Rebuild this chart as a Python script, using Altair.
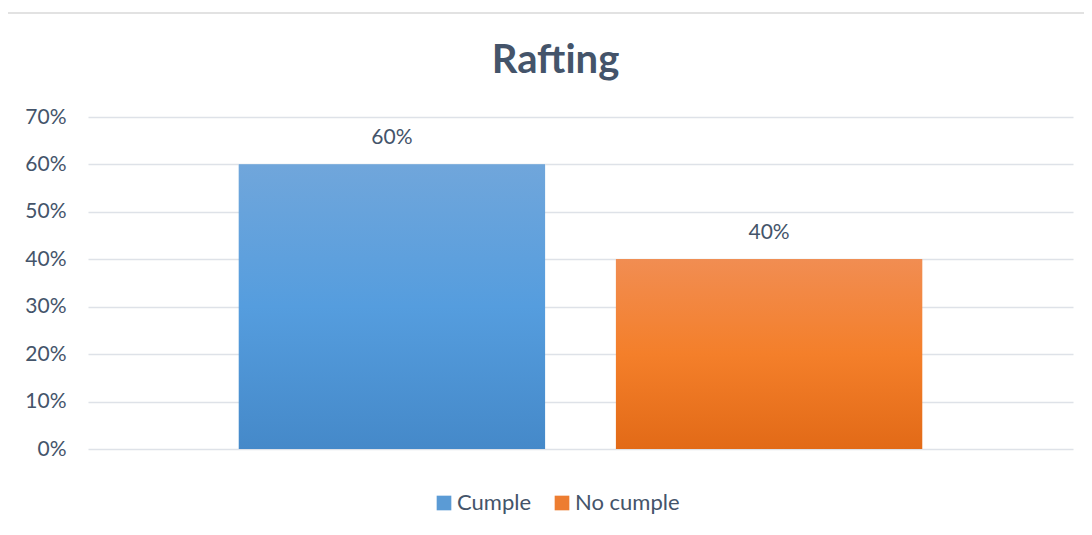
import altair as alt
import pandas as pd

categorias = ["Cumple", "No cumple"]
valores = [0.60, 0.40]
etiquetas = ["60%", "40%"]
titulo = "Rafting"

df = pd.DataFrame({"serie": categorias, "valor": valores, "etiqueta": etiquetas})

TXT = "#44546A"
FONT = "Lato"

grad_blue = {"gradient": "linear", "x1": 0, "y1": 0, "x2": 0, "y2": 1,
             "stops": [{"offset": 0, "color": "#70A6DB"}, {"offset": 0.5, "color": "#559DDE"}, {"offset": 1, "color": "#4589C9"}]}
grad_orange = {"gradient": "linear", "x1": 0, "y1": 0, "x2": 0, "y2": 1,
               "stops": [{"offset": 0, "color": "#F18D52"}, {"offset": 0.5, "color": "#F47F2A"}, {"offset": 1, "color": "#E26A17"}]}

xscale = alt.Scale(domain=categorias, paddingInner=0.188, paddingOuter=0.4)
yscale = alt.Scale(domain=[0, 0.7])

base = alt.Chart(df)

legend_bars = base.mark_bar().encode(
    x=alt.X("serie:N", scale=xscale, axis=None, sort=categorias),
    y=alt.Y("valor:Q", scale=yscale,
            axis=alt.Axis(format="%", values=[0, 0.1, 0.2, 0.3, 0.4, 0.5, 0.6, 0.7], title=None,
                          domain=False, ticks=False, labelPadding=22, labelFontSize=21,
                          labelColor=TXT, labelFont=FONT, grid=True, gridColor="#DEE2E8",
                          gridWidth=1.5)),
    color=alt.Color("serie:N", sort=categorias,
                    scale=alt.Scale(domain=categorias, range=["#5B9BD5", "#ED7D31"]),
                    legend=alt.Legend(title=None, orient="none", legendX=345, legendY=375,
                                      direction="horizontal",
                                      symbolType="square", symbolSize=215, symbolStrokeWidth=0,
                                      labelFontSize=22, labelColor=TXT, labelFont=FONT,
                                      columnPadding=19, labelOffset=2)),
)

grad_bars = base.mark_bar().encode(
    x=alt.X("serie:N", scale=xscale, sort=categorias),
    y=alt.Y("valor:Q", scale=yscale),
    fill=alt.condition(alt.datum.serie == "Cumple", alt.value(grad_blue), alt.value(grad_orange)),
)

labels = base.mark_text(dy=-26, fontSize=21, font=FONT, color=TXT).encode(
    x=alt.X("serie:N", scale=xscale, sort=categorias),
    y=alt.Y("valor:Q", scale=yscale),
    text="etiqueta:N",
)

frame = alt.Chart(pd.DataFrame({"a": [0]})).mark_rect(
    fill=None, stroke="#D9D9D9", strokeWidth=1.5
).encode(x=alt.value(-81), x2=alt.value(1040), y=alt.value(-104), y2=alt.value(460))

chart = alt.layer(frame, legend_bars, grad_bars, labels).properties(
    width=985, height=332,
    title=alt.TitleParams(titulo, fontSize=40, font=FONT, fontWeight="bold", color=TXT,
                          anchor="middle", frame="group", dx=-25, offset=-69),
    autosize=alt.AutoSizeParams(type="none"),
    padding={"left": 80, "top": 109, "right": 11, "bottom": 70},
).configure_view(stroke=None)

chart.save("out.html", embed_options={"renderer": "svg", "actions": False})
